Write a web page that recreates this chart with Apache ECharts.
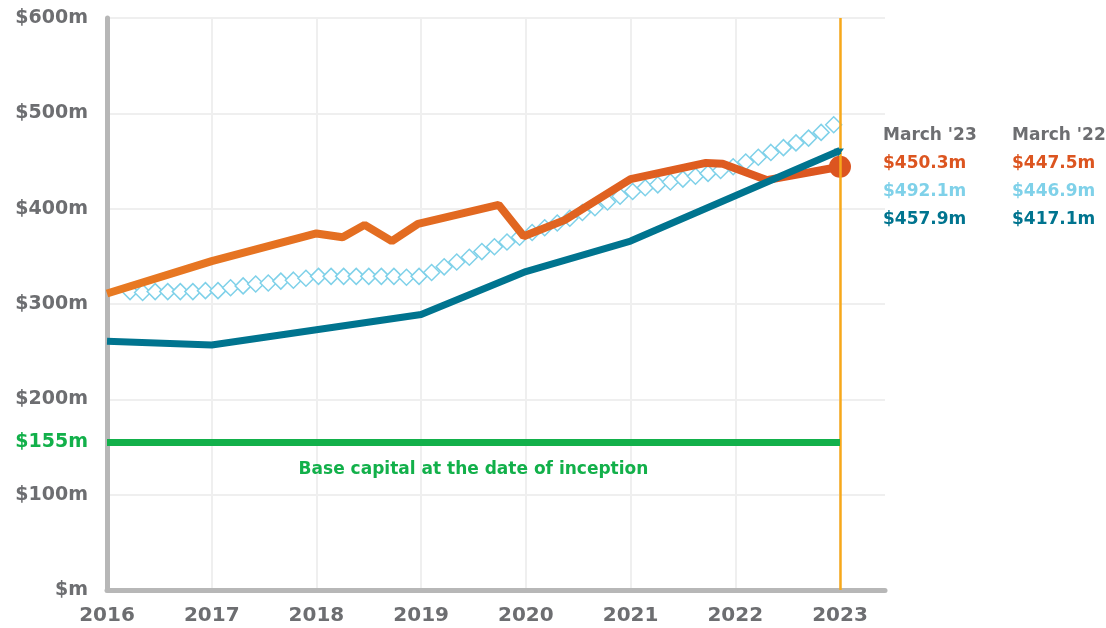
<!DOCTYPE html>
<html>
<head>
<meta charset="utf-8">
<title>Fund value since inception</title>
<script src="https://cdn.jsdelivr.net/npm/echarts@6/dist/echarts.min.js"></script>
<style>
  html, body { margin: 0; padding: 0; background: #fff; }
  #chart { width: 1106px; height: 628px; }
</style>
</head>
<body>
<div id="chart"></div>
<script>
// orange line: [year, $m]
const orangeData = [
  [2016, 311], [2017, 345], [2018, 374], [2018.25, 370], [2018.46, 383],
  [2018.72, 366], [2018.97, 384], [2019.74, 404], [2019.98, 371],
  [2020.37, 388], [2021.0, 431], [2021.72, 448], [2021.88, 447],
  [2022.3, 430], [2023, 444]
];
// dark teal line
const tealData = [
  [2016, 261], [2017, 257], [2018, 273], [2019, 289], [2020, 334],
  [2021, 366], [2023, 461]
];
// light blue diamond chain
const lightYears = [
  2016.22, 2016.34, 2016.46, 2016.58, 2016.70, 2016.82, 2016.94, 2017.06, 2017.18, 2017.30,
  2017.42, 2017.54, 2017.66, 2017.78, 2017.90, 2018.02, 2018.14, 2018.26, 2018.38, 2018.50,
  2018.62, 2018.74, 2018.86, 2018.98, 2019.10, 2019.22, 2019.34, 2019.46, 2019.58, 2019.70,
  2019.82, 2019.94, 2020.06, 2020.18, 2020.30, 2020.42, 2020.54, 2020.66, 2020.78, 2020.90,
  2021.02, 2021.14, 2021.26, 2021.38, 2021.50, 2021.62, 2021.74, 2021.86, 2021.98, 2022.10,
  2022.22, 2022.34, 2022.46, 2022.58, 2022.70, 2022.82, 2022.94
];
const lightValues = [
  313, 312, 313, 313, 313, 313, 314, 314, 317, 319,
  321, 322, 324, 325, 327, 329, 329, 329, 329, 329,
  329, 329, 328, 329, 333, 339, 344, 349, 355, 360,
  365, 370, 375, 380, 385, 390, 396, 401, 407, 413,
  418, 422, 425, 428, 431, 434, 437, 440, 444, 449,
  454, 459, 464, 469, 474, 480, 488
];
const baseCapital = 155;
const baseLabel = 'Base capital at the date of inception';
const markerYear = 2023;
const yearTicks = [2016, 2017, 2018, 2019, 2020, 2021, 2022, 2023];
const snapHeads = ["March '23", "March '22"];
const snapOrange = ['$450.3m', '$447.5m'];
const snapLight = ['$492.1m', '$446.9m'];
const snapTeal = ['$457.9m', '$417.1m'];

const C_ORANGE = '#dc5520';
const C_LIGHT = '#7fd1e9';
const C_TEAL = '#00748f';
const C_GREEN = '#12b04a';
const C_GRAY = '#6d6e71';
const FONT = 'DejaVu Sans';

let myChart = echarts.init(document.getElementById('chart'));

const lightData = lightYears.map((y, i) => [y, lightValues[i]]);
const orangeSeries = orangeData.map((d, i) =>
  i === orangeData.length - 1
    ? { value: d, symbol: 'circle', symbolSize: 22, itemStyle: { color: C_ORANGE } }
    : d
);
const tealSeries = tealData.map((d, i) =>
  i === tealData.length - 1
    ? { value: d, symbol: 'triangle', symbolSize: 9, symbolRotate: -62, itemStyle: { color: C_TEAL } }
    : d
);

function snapText(col, row, text, color) {
  return {
    type: 'text',
    left: col === 0 ? 883 : 1012,
    top: 127 + row * 28,
    style: { text: text, fill: color, font: 'bold 17px "' + FONT + '"' }
  };
}
const graphics = [];
[0, 1].forEach(c => {
  graphics.push(snapText(c, 0, snapHeads[c], C_GRAY));
  graphics.push(snapText(c, 1, snapOrange[c], C_ORANGE));
  graphics.push(snapText(c, 2, snapLight[c], C_LIGHT));
  graphics.push(snapText(c, 3, snapTeal[c], C_TEAL));
});

const option = {
  animation: false,
  grid: { left: 107, right: 221, top: 18, bottom: 38 },
  xAxis: {
    type: 'value',
    min: 2016,
    max: 2023.43,
    interval: 1,
    axisLine: { show: true, lineStyle: { color: '#b7b7b7', width: 5 } },
    axisTick: { show: false },
    splitLine: { show: true, showMaxLine: false, lineStyle: { color: '#efefef', width: 2 } },
    axisLabel: {
      color: C_GRAY, fontFamily: FONT, fontWeight: 'bold', fontSize: 20, margin: 16,
      showMaxLabel: false,
      formatter: v => (yearTicks.indexOf(v) >= 0 ? String(v) : '')
    }
  },
  yAxis: {
    type: 'value',
    min: 0,
    max: 600,
    interval: 100,
    axisLine: { show: true, lineStyle: { color: '#b7b7b7', width: 5 } },
    axisTick: { show: false },
    splitLine: { show: true, lineStyle: { color: '#efefef', width: 2 } },
    axisLabel: {
      color: C_GRAY, fontFamily: FONT, fontWeight: 'bold', fontSize: 19, margin: 19,
      formatter: v => (v === 0 ? '$m' : '$' + v + 'm')
    }
  },
  graphic: graphics,
  series: [
    {
      name: 'marker',
      type: 'line',
      data: [],
      z: 1,
      markLine: {
        silent: true,
        symbol: 'none',
        lineStyle: { color: '#f7a81b', width: 2.5, type: 'solid' },
        label: { show: false },
        data: [{ xAxis: markerYear }]
      }
    },
    {
      name: 'base',
      type: 'line',
      data: [],
      z: 2,
      markLine: {
        silent: true,
        symbol: 'none',
        lineStyle: { color: C_GREEN, width: 7, type: 'solid' },
        label: {
          show: true, position: 'start', distance: 19, formatter: '$' + baseCapital + 'm',
          color: C_GREEN, fontFamily: FONT, fontWeight: 'bold', fontSize: 19
        },
        data: [[{ coord: [2016, baseCapital] }, { coord: [markerYear, baseCapital] }]]
      }
    },
    {
      name: 'baseText',
      type: 'line',
      data: [],
      z: 2,
      markLine: {
        silent: true,
        symbol: 'none',
        lineStyle: { color: 'rgba(0,0,0,0)', width: 1, type: 'solid' },
        label: {
          show: true, position: 'insideMiddleBottom', distance: 19, formatter: baseLabel,
          color: C_GREEN, fontFamily: FONT, fontWeight: 'bold', fontSize: 17
        },
        data: [[{ coord: [2016, baseCapital] }, { coord: [markerYear, baseCapital] }]]
      }
    },
    {
      name: 'light',
      type: 'line',
      data: lightData,
      z: 3,
      symbol: 'diamond',
      symbolSize: 16,
      showAllSymbol: true,
      lineStyle: { opacity: 0 },
      itemStyle: { color: '#fff', borderColor: C_LIGHT, borderWidth: 1.5 }
    },
    {
      name: 'orange',
      type: 'line',
      data: orangeSeries,
      z: 4,
      symbol: 'none',
      lineStyle: {
        width: 8,
        color: new echarts.graphic.LinearGradient(0, 0, 1, 0, [
          { offset: 0, color: '#e87a22' },
          { offset: 0.45, color: '#e26a21' },
          { offset: 1, color: C_ORANGE }
        ])
      }
    },
    {
      name: 'teal',
      type: 'line',
      data: tealSeries,
      z: 5,
      symbol: 'none',
      lineStyle: { width: 7, color: C_TEAL }
    }
  ]
};
myChart.setOption(option, true);

window.addEventListener('resize', () => {
  myChart.resize();
});
</script>
</body>
</html>
